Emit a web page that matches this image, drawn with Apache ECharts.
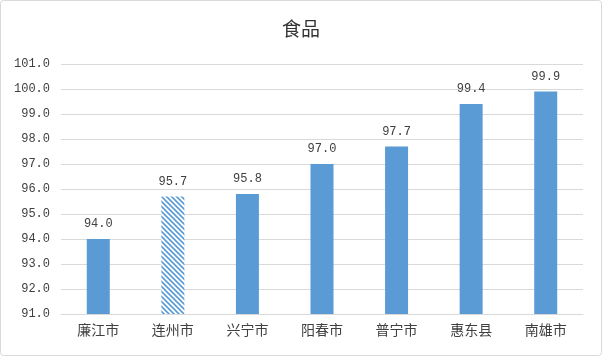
<!DOCTYPE html>
<html>
<head>
<meta charset="utf-8">
<script src="https://cdn.jsdelivr.net/npm/echarts@6/dist/echarts.min.js"></script>
<style>
html,body{margin:0;padding:0;background:#fff;}
#c{width:602px;height:356px;}
</style>
</head>
<body>
<div id="c"></div>
<script>
const title = '食品';
const categories = ['廉江市','连州市','兴宁市','阳春市','普宁市','惠东县','南雄市'];
const values = [94.0, 95.7, 95.8, 97.0, 97.7, 99.4, 99.9];
const hatchedIndex = 1;
const yMin = 91, yMax = 101, yStep = 1;

const BLUE = '#5B9BD5';
// hatch pattern tile
const tile = document.createElement('canvas');
tile.width = 5; tile.height = 5;
const g = tile.getContext('2d');
g.fillStyle = '#fff'; g.fillRect(0,0,5,5);
g.strokeStyle = BLUE; g.lineWidth = 1.6;
g.beginPath();
g.moveTo(-1,-1); g.lineTo(6,6);
g.moveTo(-1,4); g.lineTo(1,6);
g.moveTo(4,-1); g.lineTo(6,1);
g.stroke();

const chart = echarts.init(document.getElementById('c'), null, {renderer:'canvas'});
chart.setOption({
  animation:false,
  backgroundColor:'#fff',
  title:{text:title,left:'center',top:14,textStyle:{fontFamily:'Noto Sans CJK SC',fontSize:19,fontWeight:'normal',color:'#333'}},
  graphic:[{type:'rect',shape:{x:0.5,y:0.5,width:601,height:355,r:3},style:{fill:'none',stroke:'#d9d9d9',lineWidth:1}}],
  grid:{left:61,right:19,top:64,bottom:42},
  xAxis:{type:'category',data:categories,
    axisLine:{lineStyle:{color:'#d9d9d9'}},axisTick:{show:false},
    axisLabel:{margin:9,fontFamily:'Noto Sans CJK SC',fontSize:14,color:'#404040'}},
  yAxis:{type:'value',min:yMin,max:yMax,interval:yStep,
    axisLine:{show:false},axisTick:{show:false},
    splitLine:{lineStyle:{color:'#d9d9d9'}},
    axisLabel:{margin:11,fontFamily:'Liberation Mono',fontSize:12,color:'#404040',formatter:v=>v.toFixed(1)}},
  series:[{type:'bar',barWidth:23,
    data:values.map((v,i)=>i===hatchedIndex?{value:v,itemStyle:{color:{image:tile,repeat:'repeat'}}}:v),
    itemStyle:{color:BLUE},
    label:{show:true,position:'top',distance:9,fontFamily:'Liberation Mono',fontSize:12,color:'#404040',formatter:p=>p.value.toFixed(1)}
  }]
});
</script>
</body>
</html>
